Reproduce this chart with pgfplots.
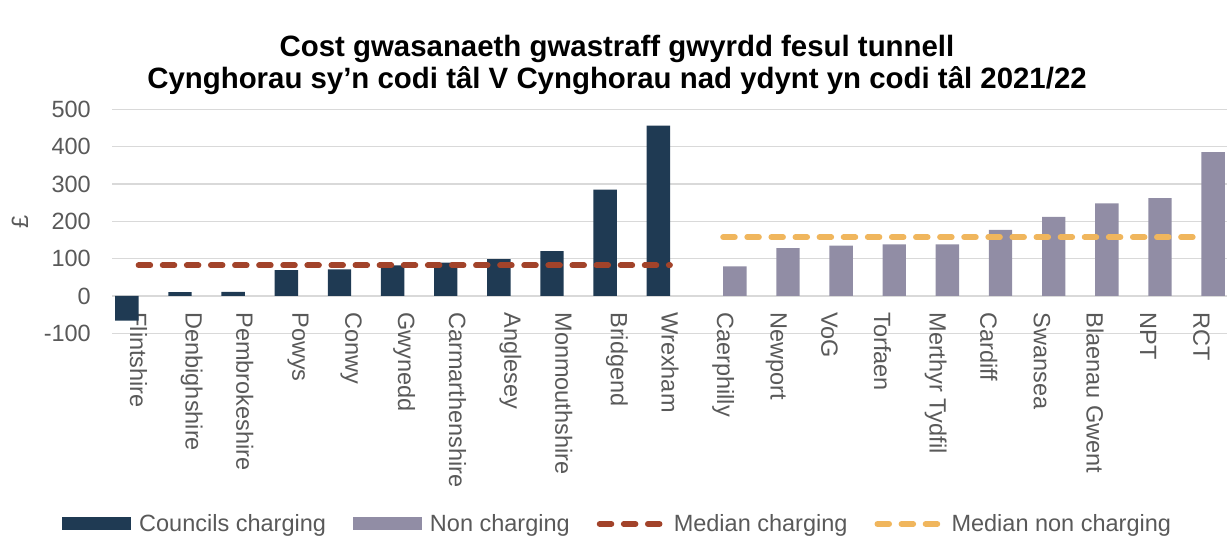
\documentclass[border=0pt]{standalone}
\usepackage{fontspec}
\setmainfont{Liberation Sans}
\usepackage{pgfplots}
\pgfplotsset{compat=1.18}
\definecolor{cc}{HTML}{1F3A53}
\definecolor{nc}{HTML}{918DA5}
\definecolor{mc}{HTML}{A2432A}
\definecolor{mn}{HTML}{F0B65D}
\definecolor{gridc}{HTML}{D9D9D9}
\definecolor{txt}{HTML}{595959}
\newcommand\lab{\fontsize{23.5bp}{28bp}\selectfont}
\begin{document}
\begin{tikzpicture}
\begin{axis}[
  at={(112bp,205.7bp)}, anchor=south west,
  scale only axis, width=1116bp, height=224bp,
  xmin=-0.5, xmax=20.5, ymin=-100, ymax=500,
  ytick={-100,0,100,200,300,400,500},
  xtick={0,...,20},
  xticklabels={Flintshire,Denbighshire,Pembrokeshire,Powys,Conwy,Gwynedd,Carmarthenshire,Anglesey,Monmouthshire,Bridgend,Wrexham,Caerphilly,Newport,VoG,Torfaen,Merthyr Tydfil,Cardiff,Swansea,Blaenau Gwent,NPT,RCT},
  axis line style={draw=none},
  major tick length=0pt,
  ymajorgrids, grid style={gridc, line width=1.3bp},
  /pgf/number format/assume math mode=true,
  yticklabel style={font=\lab, text=txt, inner sep=0pt, xshift=-21bp, anchor=east},
  xticklabel style={font=\lab, text=txt, inner sep=0pt, yshift=21bp, rotate=-90, anchor=west},
  clip=false,
  legend columns=4,
  legend style={at={(-0.0448,-0.8513)}, anchor=west, draw=none, fill=none,
    inner sep=0pt, font=\lab, text=txt, nodes={inner sep=0pt},
    /tikz/every odd column/.append style={column sep=8bp},
    /tikz/every even column/.append style={column sep=27bp}},
]
\addplot[ybar, bar width=0.44, bar shift=-0.22, fill=cc, draw=none,
  legend image code/.code={\fill[cc] (0bp,-6.5bp) rectangle (69bp,6.5bp);}]
  coordinates {(0,-66) (1,10) (2,11) (3,69) (4,71) (5,82) (6,89) (7,99) (8,120) (9,285) (10,456)};
\addlegendentry{Councils charging}
\addplot[ybar, bar width=0.44, bar shift=0.22, fill=nc, draw=none,
  legend image code/.code={\fill[nc] (0bp,-6.5bp) rectangle (69bp,6.5bp);}]
  coordinates {(11,79) (12,128) (13,135) (14,138) (15,138) (16,177) (17,212) (18,248) (19,262) (20,385)};
\addlegendentry{Non charging}
\addplot[mc, line width=5.8bp, dash pattern=on 11.7bp off 12.4bp, line cap=round, no marks, sharp plot,
  legend image code/.code={\draw[mc, line width=5.8bp, dash pattern=on 11.7bp off 12.4bp, line cap=round] (2.9bp,0) -- (66.1bp,0);}]
  coordinates {(0,82) (10,82)};
\addlegendentry{Median charging}
\addplot[mn, line width=5.8bp, dash pattern=on 11.7bp off 12.4bp, line cap=round, no marks, sharp plot,
  legend image code/.code={\draw[mn, line width=5.8bp, dash pattern=on 11.7bp off 12.4bp, line cap=round] (2.9bp,0) -- (66.1bp,0);}]
  coordinates {(11,157.5) (20,157.5)};
\addlegendentry{Median non charging}
\end{axis}
\node[font=\fontsize{29.4bp}{32.5bp}\selectfont\bfseries, align=center] at (617bp,474bp)
  {Cost gwasanaeth gwastraff gwyrdd fesul tunnell\\Cynghorau sy’n codi tâl V Cynghorau nad ydynt yn codi tâl 2021/22};
\node[font=\lab, text=txt, rotate=90] at (20bp,317bp) {£};
\pgfresetboundingbox
\useasboundingbox (0,0) rectangle (1227bp,539bp);
\end{tikzpicture}
\end{document}
